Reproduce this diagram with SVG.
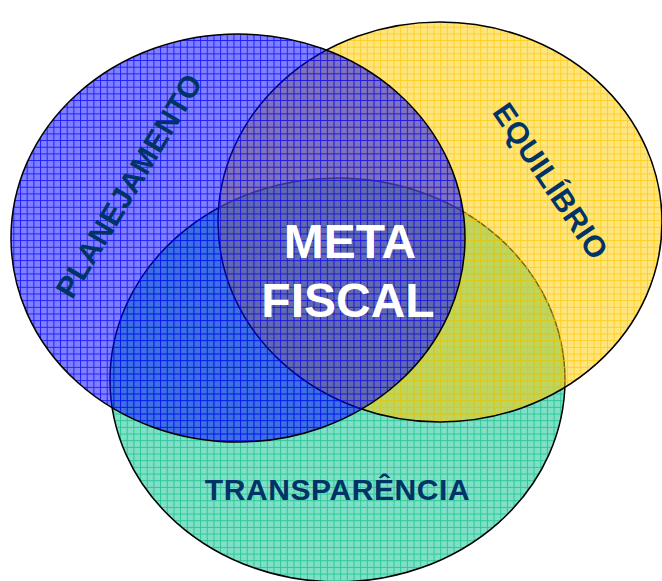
<svg xmlns="http://www.w3.org/2000/svg" width="662" height="581" viewBox="0 0 662 581">
  <defs>
    <pattern id="pTeal" width="6.67" height="6.67" patternUnits="userSpaceOnUse">
      <rect width="6.67" height="6.67" fill="#00C090" fill-opacity="0.5"/>
      <path d="M0 0.5H6.67M0.5 0V6.67" stroke="#10C088" stroke-opacity="0.75" stroke-width="1" fill="none"/>
    </pattern>
    <pattern id="pYellow" width="6.67" height="6.67" patternUnits="userSpaceOnUse">
      <rect width="6.67" height="6.67" fill="#FFCC00" fill-opacity="0.5"/>
      <path d="M0 0.5H6.67M0.5 0V6.67" stroke="#FFC800" stroke-opacity="0.75" stroke-width="1" fill="none"/>
    </pattern>
    <pattern id="pBlue" width="6.67" height="6.67" patternUnits="userSpaceOnUse">
      <rect width="6.67" height="6.67" fill="#0000FF" fill-opacity="0.5"/>
      <path d="M0 0.5H6.67M0.5 0V6.67" stroke="#0000FF" stroke-opacity="0.75" stroke-width="1" fill="none"/>
    </pattern>
    <style>
      .circle { stroke: #000; stroke-width: 1.5; }
      .lbl { font-family: "Liberation Sans", Arial, sans-serif; font-weight: bold; fill: #003366; font-size: 30px; letter-spacing: 0.6px; text-anchor: middle; }
      .center { font-family: "Liberation Sans", Arial, sans-serif; font-weight: bold; fill: #FFFFFF; font-size: 48px; text-anchor: middle; }
    </style>
  </defs>
  <rect width="662" height="581" fill="#FFFFFF"/>
  <g id="transparencia">
    <ellipse class="circle" cx="337.5" cy="380" rx="227.5" ry="202" fill="url(#pTeal)"/>
  </g>
  <g id="equilibrio">
    <ellipse class="circle" cx="440" cy="222" rx="222" ry="200" fill="url(#pYellow)"/>
  </g>
  <g id="planejamento">
    <ellipse class="circle" cx="238" cy="238" rx="227" ry="204" fill="url(#pBlue)"/>
  </g>
  <g id="labels">
    <text class="lbl" transform="translate(138,191) rotate(-59)">PLANEJAMENTO</text>
    <text class="lbl" transform="translate(542,187) rotate(56)">EQUILÍBRIO</text>
    <text class="lbl" x="337.5" y="500">TRANSPARÊNCIA</text>
  </g>
  <g id="meta-fiscal">
    <text class="center" x="350" y="258">META</text>
    <text class="center" x="348" y="317">FISCAL</text>
  </g>
  <g id="connectors"/>
</svg>
